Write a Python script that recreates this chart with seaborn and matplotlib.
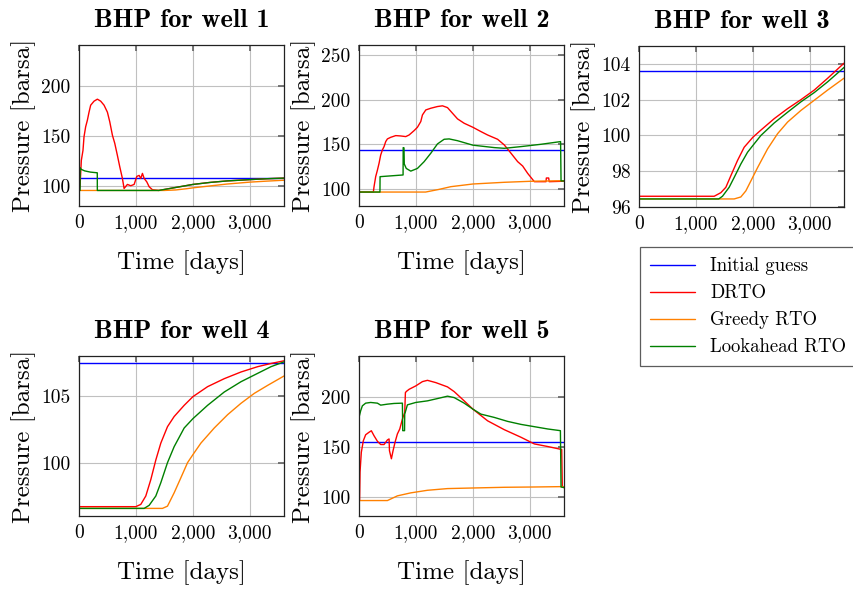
import matplotlib
matplotlib.use("Agg")
import matplotlib.pyplot as plt
from matplotlib.ticker import FuncFormatter
import seaborn as sns
import pandas as pd

# ---------------- data ----------------
series_names = ["Initial guess", "DRTO", "Greedy RTO", "Lookahead RTO"]
series_colors = ["#0000ff", "#ff0000", "#ff8000", "#008000"]
well_titles = ["BHP for well 1", "BHP for well 2", "BHP for well 3",
               "BHP for well 4", "BHP for well 5"]
x_ticks = [0, 1000, 2000, 3000]

# Well 1
w1_init_t = [0, 3600]
w1_init = [108.3, 108.3]
w1_drto_t = [0, 18, 41, 70, 88, 117, 147, 176, 205, 264, 323, 381, 440, 499, 540,
             587, 628, 674, 716, 762, 792, 850, 909, 968, 1015, 1056, 1085, 1114,
             1144, 1190, 1232, 1290, 1400, 1600, 1800, 2000, 2300, 2600, 3000, 3300, 3600]
w1_drto = [96, 100, 126, 136, 149.5, 159.5, 166, 174, 181, 185, 187, 185, 181, 174, 164.5,
           151, 143, 131, 119.6, 108, 98, 102, 100.7, 102, 110, 111, 108, 113,
           108, 104.6, 99.7, 96.7, 96, 98, 100, 102, 104, 105.5, 106.8, 107.7, 108.3]
w1_greedy_t = [0, 1500, 1700, 1900, 2000, 2300, 2600, 3000, 3300, 3600]
w1_greedy = [96, 96, 96.5, 97.8, 98.6, 100.5, 102.4, 104.3, 105.3, 106.2]
w1_look_t = [0, 19, 20, 40, 100, 200, 321, 322, 1400, 1600, 1800, 2000, 2300, 2600, 3000, 3300, 3600]
w1_look = [96, 96, 118.6, 117, 115.5, 114.3, 113.6, 96, 96, 98, 100, 102, 104, 105.5, 106.8, 107.7, 108.3]

# Well 2
w2_init_t = [0, 3600]
w2_init = [143.3, 143.3]
w2_drto_t = [0, 252, 264, 293, 323, 352, 381, 411, 440, 469, 499, 557, 645, 733, 821, 880,
             968, 1026, 1085, 1114, 1173, 1261, 1378, 1466, 1554, 1642, 1730, 1847, 2000,
             2141, 2258, 2434, 2551, 2669, 2786, 2874, 2962, 3079, 3284, 3290, 3331, 3340, 3600]
w2_drto = [96.6, 96.6, 102.6, 113.8, 121, 128.7, 138, 143.7, 147.4, 153, 156, 157.8, 159.7,
           159.3, 158.6, 160.4, 165.3, 169, 175.4, 182.8, 188.4, 190.3, 192.2, 193, 191,
           184.7, 178.4, 173.5, 169, 164.2, 160.4, 155.6, 149.3, 140, 130.6, 125.7, 117.5,
           108.2, 108.2, 112.3, 112.3, 108.2, 108.7]
w2_greedy_t = [0, 1170, 1400, 1613, 2000, 2551, 3000, 3600]
w2_greedy = [96.6, 96.6, 99.5, 102.6, 105.6, 107.5, 108.6, 109.3]
w2_look_t = [0, 368, 370, 774, 776, 790, 795, 830, 909, 1026, 1144, 1261, 1378, 1495, 1583,
             1730, 2000, 2375, 2551, 2844, 3196, 3540, 3548, 3600]
w2_look = [96.6, 96.6, 113.8, 115.7, 146.3, 146, 128, 123, 120, 123, 130.6, 140, 150.4,
           155.6, 156, 154, 149, 146.3, 145.5, 147.4, 150, 153, 109, 109]

# Well 3
w3_init_t = [0, 3600]
w3_init = [103.6, 103.6]
w3_drto_t = [0, 1320, 1437, 1525, 1613, 1730, 1847, 2000, 2141, 2375, 2610, 2844, 3079, 3314, 3600]
w3_drto = [96.6, 96.6, 96.8, 97.1, 97.75, 98.6, 99.34, 99.9, 100.3, 100.94, 101.5, 102.0,
           102.54, 103.2, 104.04]
w3_greedy_t = [0, 1671, 1788, 1876, 1965, 2082, 2258, 2434, 2610, 2844, 3079, 3314, 3600]
w3_greedy = [96.45, 96.45, 96.56, 96.9, 97.46, 98.2, 99.25, 100.1, 100.75, 101.4, 101.97,
             102.54, 103.2]
w3_look_t = [0, 1400, 1466, 1583, 1671, 1788, 1906, 2000, 2141, 2375, 2610, 2844, 3079, 3314, 3600]
w3_look = [96.45, 96.45, 96.6, 97.1, 97.65, 98.4, 99.06, 99.44, 100.0, 100.7, 101.3, 101.88,
           102.4, 103.0, 103.8]

# Well 4
w4_init_t = [0, 3600]
w4_init = [107.5, 107.5]
w4_drto_t = [0, 997, 1085, 1173, 1261, 1349, 1437, 1554, 1671, 1847, 2000, 2258, 2551, 2844,
             3138, 3372, 3600]
w4_drto = [96.7, 96.7, 96.87, 97.5, 98.73, 100.2, 101.47, 102.7, 103.46, 104.3, 104.95, 105.7,
           106.3, 106.8, 107.2, 107.44, 107.64]
w4_greedy_t = [0, 1466, 1554, 1671, 1788, 1906, 2000, 2141, 2375, 2610, 2844, 3079, 3314, 3600]
w4_greedy = [96.57, 96.57, 96.74, 97.74, 98.86, 100.0, 100.6, 101.47, 102.6, 103.6, 104.45,
             105.2, 105.8, 106.5]
w4_look_t = [0, 1144, 1232, 1349, 1437, 1554, 1671, 1847, 2000, 2258, 2551, 2844, 3138, 3372, 3600]
w4_look = [96.57, 96.57, 96.8, 97.5, 98.5, 100.0, 101.2, 102.6, 103.3, 104.3, 105.3, 106.07,
           106.7, 107.2, 107.56]

# Well 5
w5_init_t = [0, 3600]
w5_init = [154.5, 154.5]
w5_drto_t = [0, 10, 18, 41, 76, 117, 176, 217, 264, 323, 381, 440, 499, 528, 535, 569, 598,
             633, 674, 716, 762, 803, 815, 833, 880, 997, 1114, 1202, 1349, 1554, 1671, 1847,
             2000, 2258, 2551, 2844, 3079, 3314, 3560, 3570, 3600]
w5_drto = [96.3, 96.3, 124.6, 144.5, 156, 162, 164.5, 166, 161, 155.5, 152.2, 152.2, 156.8,
           157.8, 146, 137.9, 146, 154.5, 162.8, 167.8, 177.7, 184.4, 204.3, 205.5, 207.6,
           211, 215.3, 216.6, 214.3, 210, 205.3, 196, 187.7, 176, 167.1, 159.5, 152.8, 150.2,
           147.2, 110, 109]
w5_greedy_t = [0, 499, 674, 909, 1202, 1554, 2000, 2551, 3079, 3600]
w5_greedy = [96, 96, 100.7, 103.7, 106.3, 108, 108.6, 109.3, 109.6, 110]
w5_look_t = [0, 29, 59, 117, 205, 323, 381, 499, 616, 762, 768, 800, 803, 850, 997, 1202,
             1378, 1554, 1671, 1847, 2000, 2141, 2375, 2610, 2844, 3079, 3314, 3537, 3548, 3600]
w5_look = [179.4, 186, 191, 193.7, 194.4, 193.7, 191.7, 192.7, 193.4, 193.7, 166.1, 166.1,
           182.7, 192, 194.4, 196, 198.3, 200.7, 199.3, 193.7, 187.7, 182.7, 179.4, 175.4,
           172.4, 170.1, 167.8, 166.1, 109.6, 109]

y_limits = [(80.5, 241), (81, 261), (96, 105), (96, 108), (80.5, 241)]
y_ticks = [[100, 150, 200], [100, 150, 200, 250], [96, 98, 100, 102, 104],
           [100, 105], [100, 150, 200]]

wells = [
    [(w1_init_t, w1_init), (w1_drto_t, w1_drto), (w1_greedy_t, w1_greedy), (w1_look_t, w1_look)],
    [(w2_init_t, w2_init), (w2_drto_t, w2_drto), (w2_greedy_t, w2_greedy), (w2_look_t, w2_look)],
    [(w3_init_t, w3_init), (w3_drto_t, w3_drto), (w3_greedy_t, w3_greedy), (w3_look_t, w3_look)],
    [(w4_init_t, w4_init), (w4_drto_t, w4_drto), (w4_greedy_t, w4_greedy), (w4_look_t, w4_look)],
    [(w5_init_t, w5_init), (w5_drto_t, w5_drto), (w5_greedy_t, w5_greedy), (w5_look_t, w5_look)],
]

# ---------------- style ----------------
sns.set_theme(style="whitegrid")
plt.rcParams["font.family"] = ["cmr10", "DejaVu Serif"]
plt.rcParams["axes.formatter.use_mathtext"] = True
plt.rcParams["mathtext.fontset"] = "cm"
plt.rcParams["text.color"] = "black"
plt.rcParams["axes.labelcolor"] = "black"
plt.rcParams["xtick.labelcolor"] = "black"
plt.rcParams["ytick.labelcolor"] = "black"

W, H = 854, 590
fig = plt.figure(figsize=(W / 100, H / 100), dpi=100)

# axes boxes in pixels: (left, top, right, bottom)
boxes = [(79, 45, 284, 206), (359, 45, 564, 206), (639, 46, 844, 207),
         (79, 356, 284, 516), (359, 356, 564, 516)]

fmt = FuncFormatter(lambda v, p: f"{v:,.0f}")

handles = None
for i, (box, data) in enumerate(zip(boxes, wells)):
    l, t, r, b = box
    ax = fig.add_axes([l / W, 1 - b / H, (r - l) / W, (b - t) / H])
    for (tt, vv), name, col in zip(data, series_names, series_colors):
        df = pd.DataFrame({"t": tt, "v": vv})
        sns.lineplot(data=df, x="t", y="v", color=col, lw=1.0, ax=ax,
                     estimator=None, sort=False, label=name)
    if i == 0:
        handles, labels = ax.get_legend_handles_labels()
    if ax.get_legend() is not None:
        ax.get_legend().remove()
    ax.set_xlim(0, 3600)
    ax.set_ylim(*y_limits[i])
    ax.set_xticks(x_ticks)
    ax.set_yticks(y_ticks[i])
    ax.xaxis.set_major_formatter(fmt)
    ax.yaxis.set_major_formatter(FuncFormatter(lambda v, p: f"{v:g}"))
    ax.set_facecolor("white")
    ax.grid(True, color="#c0c0c0", lw=0.8)
    for s in ax.spines.values():
        s.set_color("#222222")
        s.set_linewidth(0.9)
    ax.tick_params(axis="both", direction="in", length=4, color="#666666",
                   labelcolor="black", top=True, right=True, labelsize=14, pad=6)
    ax.set_title(well_titles[i], fontsize=19, fontfamily="cmb10", pad=13,
                 color="black")
    ax.set_ylabel("Pressure [barsa]", fontsize=18, labelpad=4, color="black")
    if i != 2:
        ax.set_xlabel("Time [days]", fontsize=18, labelpad=13, color="black")
    else:
        ax.set_xlabel("")

leg = fig.legend(handles, series_names, loc="upper left",
                 bbox_to_anchor=(640 / W, 1 - 247 / H), frameon=True,
                 fontsize=13.5, handlelength=2.4, labelspacing=0.48,
                 borderpad=0.55, fancybox=False, borderaxespad=0)
leg.get_frame().set_edgecolor("#333333")
leg.get_frame().set_linewidth(0.9)
for txt in leg.get_texts():
    txt.set_color("black")

fig.savefig("out.png", dpi=100)
